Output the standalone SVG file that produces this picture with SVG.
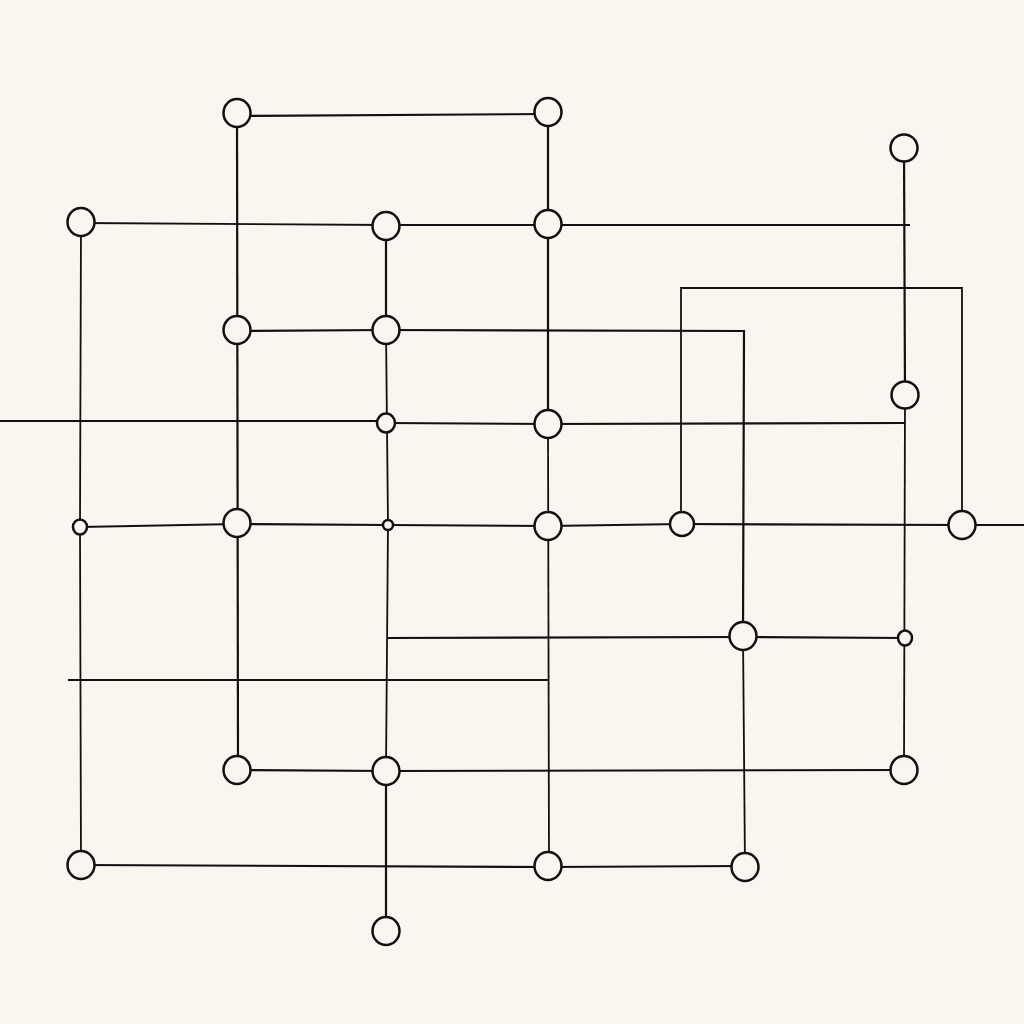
<svg xmlns="http://www.w3.org/2000/svg" width="1024" height="1024" viewBox="0 0 1024 1024">
<style>
.bg{fill:#f8f6ef}
.e{fill:none;stroke:#111;stroke-width:2.2;stroke-linecap:butt}
.t{fill:none;stroke:#111;stroke-width:1.8}
.n{fill:#f8f6ef;stroke:#111;stroke-width:2.5}
</style>
<rect class="bg" x="0" y="0" width="1024" height="1024"/>
<g id="connectors">
<path class="e" d="M237,116 L548,114"/>
<path class="t" d="M81,223 L386,225"/>
<path class="e" d="M386,225 L548,225 L910,225"/>
<path class="e" d="M237,331 L386,330"/>
<path class="e" d="M386,330 L744,331 L743,636"/>
<path class="t" d="M743,636 L745,867"/>
<path class="e" d="M0,421 L386,421"/>
<path class="e" d="M386,423 L548,424 L905,423"/>
<path class="t" d="M80,527 L237,524"/>
<path class="e" d="M237,524 L388,525 L548,526 L682,524 L962,525 L1024,525"/>
<path class="t" d="M681,524 L681,288 L962,288 L962,525"/>
<path class="e" d="M387,638 L743,637 L905,638"/>
<path class="e" d="M68,680 L548,680"/>
<path class="e" d="M237,770 L386,771 L904,770"/>
<path class="e" d="M81,865 L548,867 L745,866"/>
<path class="e" d="M237,113 L238,770"/>
<path class="e" d="M548,112 L548,424"/>
<path class="t" d="M548,424 L549,866"/>
<path class="e" d="M904,148 L905,395"/>
<path class="t" d="M905,395 L904,770"/>
<path class="t" d="M81,222 L80,527 L81,865"/>
<path class="e" d="M386,226 L386,330"/>
<path class="t" d="M386,330 L388,525 L386,771"/>
<path class="e" d="M386,771 L386,931"/>
</g>
<g id="node-A"><ellipse class="n" cx="237" cy="113" rx="13.5" ry="14"/></g>
<g id="node-B"><ellipse class="n" cx="548" cy="112" rx="13.5" ry="14"/></g>
<g id="node-C"><ellipse class="n" cx="904" cy="148" rx="13.5" ry="13.5"/></g>
<g id="node-D"><ellipse class="n" cx="81" cy="222" rx="13.5" ry="14"/></g>
<g id="node-E"><ellipse class="n" cx="386" cy="226" rx="13.5" ry="14"/></g>
<g id="node-F"><ellipse class="n" cx="548" cy="224" rx="13.5" ry="14"/></g>
<g id="node-G"><ellipse class="n" cx="237" cy="330" rx="13.5" ry="14"/></g>
<g id="node-H"><ellipse class="n" cx="386" cy="330" rx="13.5" ry="14"/></g>
<g id="node-I"><ellipse class="n" cx="386" cy="423" rx="9" ry="9.5"/></g>
<g id="node-J"><ellipse class="n" cx="548" cy="424" rx="13.5" ry="14"/></g>
<g id="node-K"><ellipse class="n" cx="905" cy="395" rx="13.5" ry="13.5"/></g>
<g id="node-L"><ellipse class="n" cx="80" cy="527" rx="7" ry="7.5"/></g>
<g id="node-M"><ellipse class="n" cx="237" cy="523" rx="13.5" ry="14"/></g>
<g id="node-N"><ellipse class="n" cx="388" cy="525" rx="5" ry="5"/></g>
<g id="node-O"><ellipse class="n" cx="548" cy="526" rx="13.5" ry="14"/></g>
<g id="node-P"><ellipse class="n" cx="682" cy="524" rx="12" ry="12"/></g>
<g id="node-Q"><ellipse class="n" cx="962" cy="525" rx="13.5" ry="14"/></g>
<g id="node-R"><ellipse class="n" cx="743" cy="636" rx="13.5" ry="14"/></g>
<g id="node-S"><ellipse class="n" cx="905" cy="638" rx="7" ry="7.5"/></g>
<g id="node-T"><ellipse class="n" cx="237" cy="770" rx="13.5" ry="14"/></g>
<g id="node-U"><ellipse class="n" cx="386" cy="771" rx="13.5" ry="14"/></g>
<g id="node-V"><ellipse class="n" cx="904" cy="770" rx="13.5" ry="14"/></g>
<g id="node-W"><ellipse class="n" cx="81" cy="865" rx="13.5" ry="14"/></g>
<g id="node-X"><ellipse class="n" cx="548" cy="866" rx="13.5" ry="14"/></g>
<g id="node-Y"><ellipse class="n" cx="745" cy="867" rx="13.5" ry="14"/></g>
<g id="node-Z"><ellipse class="n" cx="386" cy="931" rx="13.5" ry="14"/></g>
</svg>
